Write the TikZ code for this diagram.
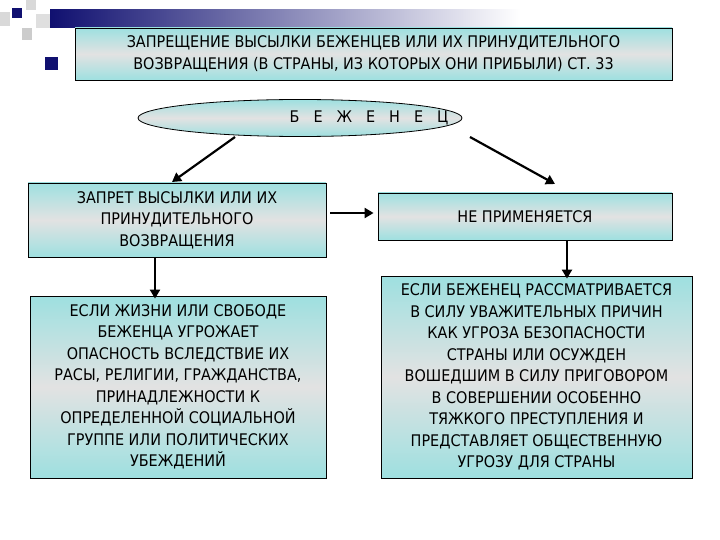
\documentclass[tikz,border=0pt]{standalone}
\usepackage{fontspec}
\setmainfont{DejaVu Sans Condensed}
\usetikzlibrary{shapes.geometric,arrows.meta}
\definecolor{cy}{HTML}{9EE0E0}
\definecolor{gr}{HTML}{E2E2E2}
\definecolor{nv}{HTML}{101070}
\tikzset{
 bx/.style={draw=black,thick,top color=cy,bottom color=cy,middle color=gr,shading angle=0,align=center,inner sep=2pt,font=\fontsize{16}{21.5}\selectfont},
 ar/.style={-{Triangle[length=9pt,width=10pt]},line width=2.2pt}
}
\begin{document}
\begin{tikzpicture}[x=1pt,y=-1pt]
\useasboundingbox (0,0) rectangle (720,540);
% decoration
\shade[left color=nv,right color=white] (50,10) rectangle (520,28);
\fill[nv] (12,8) rectangle (22,18);
\fill[gray!30] (26,0) rectangle (36,10);
\fill[gray!30] (0,12) rectangle (10,26);
\fill[gray!40] (22,28) rectangle (32,40);
\fill[gray!25] (36,14) rectangle (50,28);
\fill[nv] (45,57) rectangle (58,70);
\node[bx,minimum width=597,minimum height=52] (t) at (373.5,54) {ЗАПРЕЩЕНИЕ ВЫСЫЛКИ БЕЖЕНЦЕВ ИЛИ ИХ ПРИНУДИТЕЛЬНОГО\\ВОЗВРАЩЕНИЯ (В СТРАНЫ, ИЗ КОТОРЫХ ОНИ ПРИБЫЛИ) СТ. 33};
\node[ellipse,draw=black,thick,top color=cy,bottom color=cy,middle color=gr,minimum width=324,minimum height=37,inner sep=0] (e) at (300,118) {};
\node[font=\fontsize{16}{18}\selectfont] (et) at (369,118) {Б\hspace{14pt}Е\hspace{14pt}Ж\hspace{14pt}Е\hspace{14pt}Н\hspace{14pt}Е\hspace{14pt}Ц};
\node[bx,minimum width=298,minimum height=74] (a) at (177,220) {ЗАПРЕТ ВЫСЫЛКИ ИЛИ ИХ\\ПРИНУДИТЕЛЬНОГО\\ВОЗВРАЩЕНИЯ};
\node[bx,minimum width=294,minimum height=47] (b) at (525,216.5) {НЕ ПРИМЕНЯЕТСЯ};
\node[bx,minimum width=296,minimum height=182] (c) at (178,387) {ЕСЛИ ЖИЗНИ ИЛИ СВОБОДЕ\\БЕЖЕНЦА УГРОЖАЕТ\\ОПАСНОСТЬ ВСЛЕДСТВИЕ ИХ\\РАСЫ, РЕЛИГИИ, ГРАЖДАНСТВА,\\ПРИНАДЛЕЖНОСТИ К\\ОПРЕДЕЛЕННОЙ СОЦИАЛЬНОЙ\\ГРУППЕ ИЛИ ПОЛИТИЧЕСКИХ\\УБЕЖДЕНИЙ};
\node[bx,minimum width=311,minimum height=202] (d) at (536.5,377) {ЕСЛИ БЕЖЕНЕЦ РАССМАТРИВАЕТСЯ\\В СИЛУ УВАЖИТЕЛЬНЫХ ПРИЧИН\\КАК УГРОЗА БЕЗОПАСНОСТИ\\СТРАНЫ ИЛИ ОСУЖДЕН\\ВОШЕДШИМ В СИЛУ ПРИГОВОРОМ\\В СОВЕРШЕНИИ ОСОБЕННО\\ТЯЖКОГО ПРЕСТУПЛЕНИЯ И\\ПРЕДСТАВЛЯЕТ ОБЩЕСТВЕННУЮ\\УГРОЗУ ДЛЯ СТРАНЫ};
\coordinate (e1) at (235,137);
\coordinate (e2) at (470,137);
\coordinate (ta) at (172,182);
\coordinate (tb) at (555,184);
\draw[ar] (e1) -- (ta);
\draw[ar] (e2) -- (tb);
\draw[ar] (a.east)+(4,-7) coordinate (a1) (a1) -- ([xshift=-4pt]b.west|-a1);
\draw[ar] (a.south-|155,0) -- ([yshift=-3pt]c.north-|155,0);
\draw[ar] (b.south-|567,0) -- ([yshift=-3pt]d.north-|567,0);
\end{tikzpicture}
\end{document}
